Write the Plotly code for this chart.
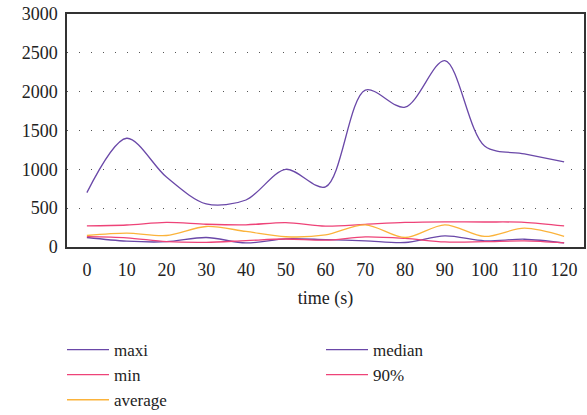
import plotly.graph_objects as go

time_s = [0, 10, 20, 30, 40, 50, 60, 70, 80, 90, 100, 110, 120]
maxi = [700, 1400, 900, 555, 605, 1000, 775, 2020, 1800, 2400, 1300, 1200, 1095]
median = [122, 75, 68, 122, 52, 105, 95, 80, 58, 142, 80, 100, 52]
min_v = [133, 118, 70, 60, 82, 103, 88, 130, 110, 65, 68, 78, 52]
p90 = [272, 283, 316, 293, 286, 314, 268, 292, 316, 324, 322, 318, 271]
average = [148, 178, 148, 264, 200, 132, 155, 286, 122, 286, 136, 243, 138]

PURPLE = "#6a48a8"
PINK = "#ee4378"
YELLOW = "#fbb33b"
FONT = "Liberation Serif"

series = [
    ("maxi", maxi, PURPLE),
    ("median", median, PURPLE),
    ("min", min_v, PINK),
    ("90%", p90, PINK),
    ("average", average, YELLOW),
]

fig = go.Figure()
for name, vals, col in series:
    fig.add_trace(go.Scatter(
        x=time_s, y=vals, name=name, mode="lines",
        line=dict(color=col, width=1.3, shape="spline", smoothing=0.9),
    ))

fig.update_layout(
    width=587, height=415,
    margin=dict(l=67, r=3, t=14, b=168, autoexpand=False),
    paper_bgcolor="white", plot_bgcolor="white",
    font=dict(family=FONT, size=18, color="#222222"),
    showlegend=True,
    legend=dict(
        orientation="h", xref="container", yref="container",
        x=62 / 587, xanchor="left", y=1 - 332 / 415, yanchor="top",
        entrywidth=202, entrywidthmode="pixels",
        font=dict(family=FONT, size=17, color="#222222"),
        tracegroupgap=0, itemwidth=42, bgcolor="rgba(0,0,0,0)",
    ),
    xaxis=dict(
        range=[-5, 125], tickmode="array", tickvals=time_s,
        ticktext=[str(t) for t in time_s],
        showgrid=False, zeroline=False, automargin=False,
        showline=True, linecolor="#333333", linewidth=1.5, mirror=True,
        ticks="outside", ticklen=6, tickcolor="rgba(0,0,0,0)",
        title=dict(text="time (s)", font=dict(family=FONT, size=18), standoff=12),
    ),
    yaxis=dict(
        range=[0, 3000], tickmode="array",
        tickvals=[0, 500, 1000, 1500, 2000, 2500, 3000],
        ticktext=["0", "500", "1000", "1500", "2000", "2500", "3000"],
        showgrid=True, gridcolor="#555555", gridwidth=1, griddash="1px,11px",
        zeroline=False, automargin=False,
        showline=True, linecolor="#333333", linewidth=1.5, mirror=True,
        ticks="outside", ticklen=4, tickcolor="rgba(0,0,0,0)",
    ),
)

fig.write_html(
    "out.html",
    config={"displayModeBar": False},
    post_script="document.body.style.margin='0';document.body.style.overflow='hidden';",
)
